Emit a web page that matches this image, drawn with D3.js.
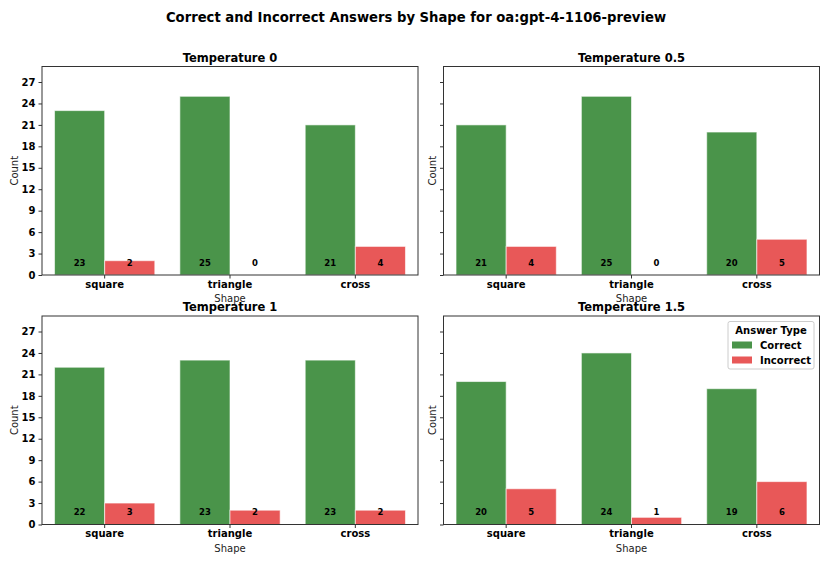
<!DOCTYPE html>
<html><head><meta charset="utf-8">
<script src="https://cdn.jsdelivr.net/npm/d3@7"></script>
<style>body{margin:0;background:#fff}svg{display:block;font-family:"DejaVu Sans",sans-serif}</style>
</head><body><svg id="c" width="830" height="572"></svg>
<script>
const shapes = ["square", "triangle", "cross"];
const temperatures = ["0", "0.5", "1", "1.5"];
const correct = [[23, 25, 21], [21, 25, 20], [22, 23, 23], [20, 24, 19]];
const incorrect = [[2, 0, 4], [4, 0, 5], [3, 2, 2], [5, 1, 6]];
const answerTypes = ["Correct", "Incorrect"];
const yTicks = [0, 3, 6, 9, 12, 15, 18, 21, 24, 27];
const colors = {Correct: "#4a944a", Incorrect: "#e85858"};

const svg = d3.select("#c");
svg.append("text").attr("x", 416).attr("y", 22).attr("text-anchor", "middle")
  .attr("font-size", 13.2).attr("font-weight", "bold")
  .text("Correct and Incorrect Answers by Shape for oa:gpt-4-1106-preview");

const panels = [
  {l: 42, r: 418, t: 66.5, b: 275},
  {l: 443.5, r: 819.5, t: 66.5, b: 275},
  {l: 42, r: 418, t: 316, b: 524.5},
  {l: 443.5, r: 819.5, t: 316, b: 524.5}
];

panels.forEach((p, i) => {
  const g = svg.append("g");
  const x = d3.scaleBand().domain(shapes).range([p.l, p.r]).paddingInner(0).paddingOuter(0);
  const xi = d3.scaleBand().domain(answerTypes).range([0, x.bandwidth()]).paddingInner(0).paddingOuter(0.25);
  const y = d3.scaleLinear().domain([0, 29.17]).range([p.b, p.t]);
  const rows = shapes.map((s, j) => ({shape: s, vals: [
    {type: "Correct", v: correct[i][j]}, {type: "Incorrect", v: incorrect[i][j]}]}));
  const grp = g.selectAll("g.s").data(rows).join("g").attr("transform", d => `translate(${x(d.shape)},0)`);
  grp.selectAll("rect").data(d => d.vals).join("rect")
    .attr("x", d => xi(d.type)).attr("width", xi.bandwidth())
    .attr("y", d => y(d.v)).attr("height", d => y(0) - y(d.v))
    .attr("fill", d => colors[d.type]).attr("stroke", "#ffffff").attr("stroke-opacity", 0.6).attr("stroke-width", 1);
  grp.selectAll("text").data(d => d.vals).join("text")
    .attr("x", d => xi(d.type) + xi.bandwidth() / 2).attr("y", y(1.7))
    .attr("dy", "0.35em").attr("text-anchor", "middle")
    .attr("font-size", 8.5).attr("font-weight", "bold").text(d => d.v);

  g.append("rect").attr("x", p.l).attr("y", p.t).attr("width", p.r - p.l).attr("height", p.b - p.t)
    .attr("fill", "none").attr("stroke", "#333").attr("stroke-width", 1);

  const ya = g.append("g").attr("transform", `translate(${p.l},0)`)
    .call(d3.axisLeft(y).tickValues(yTicks).tickSize(3.5).tickPadding(3).tickFormat(i % 2 === 0 ? d3.format("d") : () => ""));
  ya.select(".domain").remove();
  ya.selectAll("line").attr("stroke", "#333");
  ya.selectAll("text").attr("font-size", 10).attr("font-weight", "bold").attr("fill", "#000")
    .attr("font-family", "DejaVu Sans");

  const xa = g.append("g").attr("transform", `translate(0,${p.b})`)
    .call(d3.axisBottom(x).tickSize(3.5).tickPadding(2));
  xa.select(".domain").remove();
  xa.selectAll("line").attr("stroke", "#333");
  xa.selectAll("text").attr("font-size", 10).attr("font-weight", "bold").attr("fill", "#000")
    .attr("font-family", "DejaVu Sans");

  g.append("text").attr("x", (p.l + p.r) / 2).attr("y", p.b + 27).attr("text-anchor", "middle")
    .attr("font-size", 10).attr("fill", "#222").text("Shape");
  g.append("text").attr("transform", `translate(${i % 2 === 0 ? p.l - 24 : p.l - 8},${(p.t + p.b) / 2}) rotate(-90)`)
    .attr("text-anchor", "middle").attr("font-size", 10).attr("fill", "#222").text("Count");
  g.append("text").attr("x", (p.l + p.r) / 2).attr("y", p.t - 5).attr("text-anchor", "middle")
    .attr("font-size", 11.5).attr("font-weight", "bold").text("Temperature " + temperatures[i]);

  if (i === 3) {
    const lg = g.append("g");
    lg.append("rect").attr("x", 728).attr("y", 321.5).attr("width", 86).attr("height", 47.5)
      .attr("rx", 2).attr("fill", "#fff").attr("fill-opacity", 0.8).attr("stroke", "#ccc");
    lg.append("text").attr("x", 771).attr("y", 334).attr("text-anchor", "middle")
      .attr("font-size", 10).attr("font-weight", "bold").text("Answer Type");
    answerTypes.forEach((t, k) => {
      const yy = 345 + k * 15;
      lg.append("rect").attr("x", 732).attr("y", yy - 3.5).attr("width", 20).attr("height", 7)
        .attr("fill", colors[t]);
      lg.append("text").attr("x", 760).attr("y", yy).attr("dy", "0.35em")
        .attr("font-size", 10).attr("font-weight", "bold").text(t);
    });
  }
});
</script></body></html>
